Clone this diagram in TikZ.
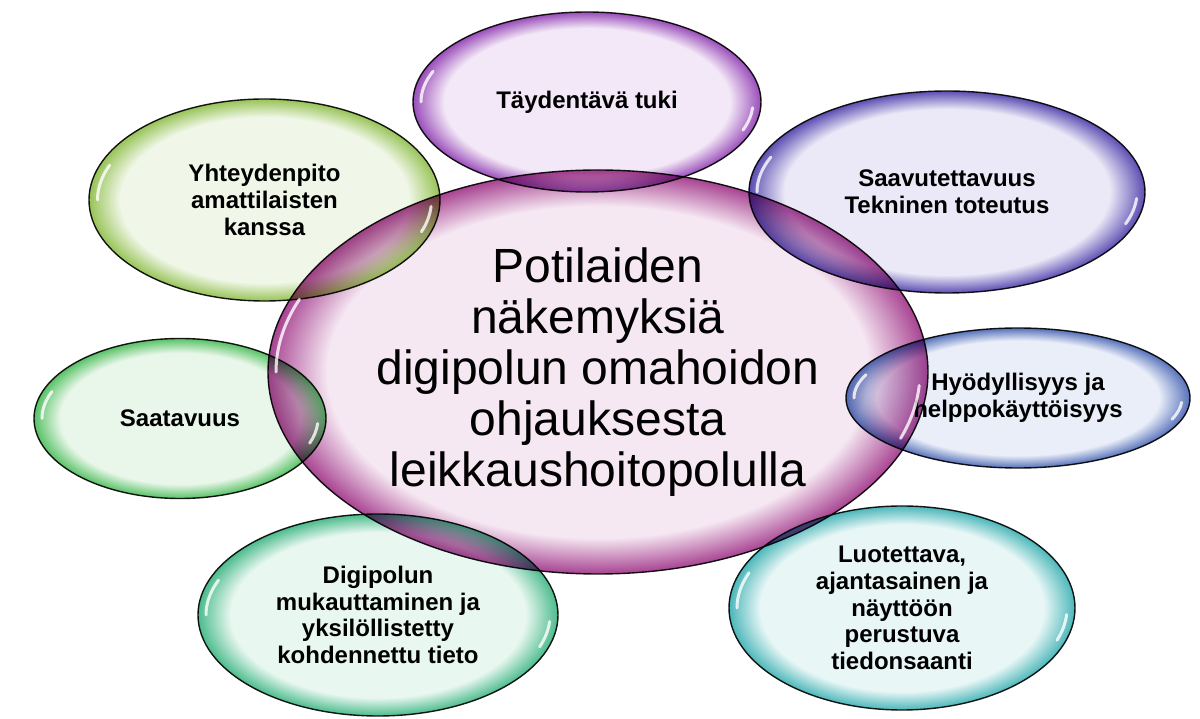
\documentclass[tikz,border=0pt]{standalone}
\usepackage{fontspec}
\setmainfont{Liberation Sans}
\usetikzlibrary{shapes.geometric}
\usetikzlibrary{calc}

\newcommand{\bubshade}[3]{\definecolor{#1l}{HTML}{#2}\definecolor{#1r}{HTML}{#3}%
\pgfdeclareradialshading{#1}{\pgfpointorigin}{color(0bp)=(#1l); color(20.5bp)=(#1l); color(25bp)=(#1r); color(50bp)=(#1r)}}
\bubshade{cenbub}{F5E6F1}{9E2F86}
\bubshade{tukibub}{F2E6F6}{8E3AB2}
\bubshade{yhtebub}{EFF6E6}{8CBD45}
\bubshade{saavbub}{E9E7F6}{4A3AAA}
\bubshade{hyotbub}{E7ECF8}{4462B2}
\bubshade{saatbub}{E6F6E7}{46BB55}
\bubshade{digibub}{E5F6EE}{38B480}
\bubshade{luotbub}{E5F5F5}{38AFB2}

\begin{document}
\begin{tikzpicture}
[x=1pt,y=1pt,
bubble/.style={ellipse,draw=black!90,line width=1.4pt,inner sep=0pt,fill opacity=0.9,text opacity=1,blend mode=multiply,align=center,font=\bfseries\fontsize{24}{26.7}\selectfont},
gloss/.style={white,line width=3pt,line cap=round,opacity=0.8}]
\useasboundingbox (0,0) rectangle (1200,718);

\node[bubble,shading=cenbub,minimum width=660pt,minimum height=404pt,font=\fontsize{48}{51}\selectfont] (cen) at (598,346) {Potilaiden\\näkemyksiä\\digipolun omahoidon\\ohjauksesta\\leikkaushoitopolulla};

\node[bubble,shading=tukibub,minimum width=348pt,minimum height=180pt] (tuki) at (587,616) {Täydentävä tuki};
\node[bubble,shading=yhtebub,minimum width=351pt,minimum height=202pt] (yhte) at (264.5,518) {Yhteydenpito\\amattilaisten\\kanssa};
\node[bubble,shading=saavbub,minimum width=396pt,minimum height=202pt] (saav) at (947,526) {Saavutettavuus\\Tekninen toteutus};
\node[bubble,shading=hyotbub,minimum width=344pt,minimum height=140pt] (hyot) at (1018,320) {Hyödyllisyys ja\\helppokäyttöisyys};
\node[bubble,shading=saatbub,minimum width=292pt,minimum height=160pt] (saat) at (180,299.5) {Saatavuus};
\node[bubble,shading=digibub,minimum width=360pt,minimum height=202pt] (digi) at (378,103) {Digipolun\\mukauttaminen ja\\yksilöllistetty\\kohdennettu tieto};
\node[bubble,shading=luotbub,minimum width=346pt,minimum height=204pt] (luot) at (902,110) {Luotettava,\\ajantasainen ja\\näyttöön\\perustuva\\tiedonsaanti};

\draw[gloss] ($(cen.center)+(158:322 and 194)$) arc[start angle=158,end angle=180,x radius=322,y radius=194];
\draw[gloss] ($(cen.center)+(-20:322 and 194)$) arc[start angle=-20,end angle=-4,x radius=322,y radius=194];
\draw[gloss] ($(tuki.center)+(158:166 and 82)$) arc[start angle=158,end angle=180,x radius=166,y radius=82];
\draw[gloss] ($(tuki.center)+(-20:166 and 82)$) arc[start angle=-20,end angle=-4,x radius=166,y radius=82];
\draw[gloss] ($(yhte.center)+(158:167 and 93)$) arc[start angle=158,end angle=180,x radius=167,y radius=93];
\draw[gloss] ($(yhte.center)+(-20:167 and 93)$) arc[start angle=-20,end angle=-4,x radius=167,y radius=93];
\draw[gloss] ($(saav.center)+(158:190 and 93)$) arc[start angle=158,end angle=180,x radius=190,y radius=93];
\draw[gloss] ($(saav.center)+(-20:190 and 93)$) arc[start angle=-20,end angle=-4,x radius=190,y radius=93];
\draw[gloss] ($(hyot.center)+(158:164 and 62)$) arc[start angle=158,end angle=180,x radius=164,y radius=62];
\draw[gloss] ($(hyot.center)+(-20:164 and 62)$) arc[start angle=-20,end angle=-4,x radius=164,y radius=62];
\draw[gloss] ($(saat.center)+(158:138 and 72)$) arc[start angle=158,end angle=180,x radius=138,y radius=72];
\draw[gloss] ($(saat.center)+(-20:138 and 72)$) arc[start angle=-20,end angle=-4,x radius=138,y radius=72];
\draw[gloss] ($(digi.center)+(158:172 and 93)$) arc[start angle=158,end angle=180,x radius=172,y radius=93];
\draw[gloss] ($(digi.center)+(-20:172 and 93)$) arc[start angle=-20,end angle=-4,x radius=172,y radius=93];
\draw[gloss] ($(luot.center)+(158:165 and 94)$) arc[start angle=158,end angle=180,x radius=165,y radius=94];
\draw[gloss] ($(luot.center)+(-20:165 and 94)$) arc[start angle=-20,end angle=-4,x radius=165,y radius=94];
\end{tikzpicture}
\end{document}
